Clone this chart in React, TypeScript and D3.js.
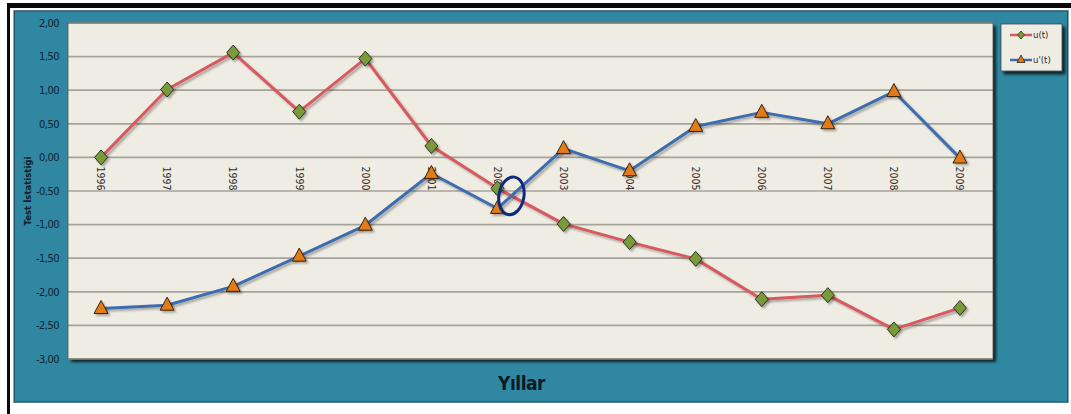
import React from 'react';
import * as d3 from 'd3';

const years = ['1996', '1997', '1998', '1999', '2000', '2001', '2002', '2003', '2004', '2005', '2006', '2007', '2008', '2009'];
const uValues = [0.0, 1.01, 1.56, 0.68, 1.47, 0.17, -0.46, -0.99, -1.26, -1.51, -2.11, -2.05, -2.56, -2.24];
const uPrimeValues = [-2.25, -2.2, -1.92, -1.47, -1.01, -0.24, -0.76, 0.13, -0.2, 0.46, 0.67, 0.5, 0.98, -0.01];
const yTicks = [2, 1.5, 1, 0.5, 0, -0.5, -1, -1.5, -2, -2.5, -3];
const seriesNames = ['u(t)', "u'(t)"];
const yTitle = 'Test İstatistiği';
const xTitle = 'Yıllar';

const W = 1071;
const H = 414;
const plot = { left: 68, right: 993, top: 23, bottom: 359 };

const RED = '#d65a5e';
const BLUE = '#3d6dae';
const GREEN = '#7a9b3c';
const ORANGE = '#e37b12';
const TEAL = '#2f87a1';
const PLOTBG = '#efece3';

const fmt = (v: number) => v.toFixed(2).replace('.', ',');

function Diamond({ cx, cy }: { cx: number; cy: number }) {
  const w = 6.5, h = 7.5;
  return (
    <path
      d={`M${cx},${cy - h}L${cx + w},${cy}L${cx},${cy + h}L${cx - w},${cy}Z`}
      fill={GREEN}
      stroke="#2a3418"
      strokeWidth={1}
    />
  );
}

function Triangle({ cx, cy }: { cx: number; cy: number }) {
  const w = 7, h = 13;
  return (
    <path
      d={`M${cx},${cy - h * 0.62}L${cx + w},${cy + h * 0.38}L${cx - w},${cy + h * 0.38}Z`}
      fill={ORANGE}
      stroke="#3a2208"
      strokeWidth={1}
    />
  );
}

export default function App() {
  const x = d3.scaleBand<string>().domain(years).range([plot.left, plot.right]);
  const cx = (yr: string) => (x(yr) as number) + x.bandwidth() / 2;
  const y = d3.scaleLinear().domain([-3, 2]).range([plot.bottom, plot.top]);

  const line = d3
    .line<number>()
    .x((_, i) => cx(years[i]))
    .y((v) => y(v))
    .curve(d3.curveLinear);

  // crossing point of the two series (annotation ellipse)
  let cross: { px: number; py: number } | null = null;
  for (let i = 0; i < years.length - 1; i++) {
    const d0 = uValues[i] - uPrimeValues[i];
    const d1 = uValues[i + 1] - uPrimeValues[i + 1];
    if (d0 * d1 < 0) {
      const t = d0 / (d0 - d1);
      const xv = cx(years[i]) + t * (cx(years[i + 1]) - cx(years[i]));
      const yv = uValues[i] + t * (uValues[i + 1] - uValues[i]);
      cross = { px: xv, py: y(yv) };
      break;
    }
  }

  const legend = { x: 1001, y: 24, w: 61, h: 47 };

  return (
    <svg
      width={W}
      height={H}
      style={{ position: 'absolute', left: 0, top: 0, display: 'block' }}
      fontFamily="'DejaVu Sans Condensed', 'DejaVu Sans', sans-serif"
    >
      <defs>
        <filter id="shadow" x="-10%" y="-10%" width="130%" height="130%">
          <feGaussianBlur in="SourceAlpha" stdDeviation="1.5" />
          <feOffset dx="3" dy="3" result="b" />
          <feComponentTransfer>
            <feFuncA type="linear" slope="0.75" />
          </feComponentTransfer>
          <feMerge>
            <feMergeNode />
            <feMergeNode in="SourceGraphic" />
          </feMerge>
        </filter>
        <filter id="lshadow" x="-5%" y="-20%" width="110%" height="140%">
          <feGaussianBlur in="SourceAlpha" stdDeviation="1.2" />
          <feOffset dx="1.5" dy="2" result="b" />
          <feComponentTransfer>
            <feFuncA type="linear" slope="0.3" />
          </feComponentTransfer>
          <feMerge>
            <feMergeNode />
            <feMergeNode in="SourceGraphic" />
          </feMerge>
        </filter>
        <clipPath id="plotclip">
          <rect x={plot.left} y={plot.top} width={plot.right - plot.left} height={plot.bottom - plot.top} />
        </clipPath>
      </defs>

      {/* page frame */}
      <rect x={0} y={0} width={W} height={H} fill="#ffffff" />
      <rect x={7} y={3} width={W - 7} height={5} fill="#0a0a0a" />
      <rect x={7} y={3} width={3} height={H - 3} fill="#0a0a0a" />

      {/* teal chart area */}
      <rect x={13} y={10} width={1056} height={393} fill="#8fa6ad" />
      <rect x={14.5} y={11} width={1053} height={391} fill={TEAL} stroke="#1f5566" strokeWidth={1} />

      {/* plot area */}
      <rect
        x={plot.left}
        y={plot.top}
        width={plot.right - plot.left}
        height={plot.bottom - plot.top}
        fill={PLOTBG}
        filter="url(#shadow)"
      />

      {/* gridlines */}
      {yTicks.map((t) => (
        <line
          key={t}
          x1={plot.left}
          x2={plot.right}
          y1={y(t)}
          y2={y(t)}
          stroke="#a4a39c"
          strokeWidth={1.7}
        />
      ))}
      <rect
        x={plot.left}
        y={plot.top}
        width={plot.right - plot.left}
        height={plot.bottom - plot.top}
        fill="none"
        stroke="#55554f"
        strokeWidth={0.8}
      />

      {/* y tick labels */}
      {yTicks.map((t) => (
        <text
          key={'l' + t}
          x={59}
          y={y(t)}
          dy="0.35em"
          textAnchor="end"
          fontSize={11}
          fill="#13222e"
          letterSpacing={-0.5}
        >
          {fmt(t)}
        </text>
      ))}

      {/* y title */}
      <text
        transform={`translate(31,${(plot.top + plot.bottom) / 2}) rotate(-90)`}
        textAnchor="middle"
        fontSize={9.5}
        fontWeight="bold"
        fill="#10202c"
      >
        {yTitle}
      </text>

      {/* category labels at the zero line */}
      {years.map((yr) => (
        <text
          key={'c' + yr}
          transform={`translate(${cx(yr)},${y(0) + 9}) rotate(90)`}
          dy="0.35em"
          textAnchor="start"
          fontSize={10.5}
          fill="#2e2e2e"
        >
          {yr}
        </text>
      ))}

      {/* series */}
      <g clipPath="url(#plotclip)">
        <path d={line(uValues) || ''} fill="none" stroke={RED} strokeWidth={3} strokeLinejoin="round" filter="url(#lshadow)" />
        <path d={line(uPrimeValues) || ''} fill="none" stroke={BLUE} strokeWidth={3} strokeLinejoin="round" filter="url(#lshadow)" />
      </g>
      <g filter="url(#lshadow)">
        {uValues.map((v, i) => (
          <Diamond key={'d' + i} cx={cx(years[i])} cy={y(v)} />
        ))}
        {uPrimeValues.map((v, i) => (
          <Triangle key={'t' + i} cx={cx(years[i])} cy={y(v)} />
        ))}
      </g>

      {/* annotation ellipse at crossing */}
      {cross && (
        <ellipse
          cx={cross.px}
          cy={cross.py}
          rx={12.5}
          ry={19}
          transform={`rotate(10,${cross.px},${cross.py})`}
          fill="none"
          stroke="#0f2a7a"
          strokeWidth={3}
        />
      )}

      {/* x title */}
      <text
        x={(plot.left + plot.right) / 2 - 9}
        y={390}
        textAnchor="middle"
        fontSize={19}
        fontWeight="bold"
        fill="#0c1a26"
        letterSpacing={-0.5}
      >
        {xTitle}
      </text>

      {/* legend */}
      <rect
        x={legend.x}
        y={legend.y}
        width={legend.w}
        height={legend.h}
        fill={PLOTBG}
        stroke="#3b4a50"
        strokeWidth={0.8}
        filter="url(#shadow)"
      />
      {seriesNames.map((name, i) => {
        const ly = legend.y + 11 + i * 25;
        return (
          <g key={name}>
            <line x1={legend.x + 9} x2={legend.x + 31} y1={ly} y2={ly} stroke={i === 0 ? RED : BLUE} strokeWidth={2.5} />
            {i === 0 ? (
              <path d={`M${legend.x + 20},${ly - 4}L${legend.x + 23.5},${ly}L${legend.x + 20},${ly + 4}L${legend.x + 16.5},${ly}Z`} fill={GREEN} stroke="#2a3418" strokeWidth={0.8} />
            ) : (
              <path d={`M${legend.x + 20},${ly - 5}L${legend.x + 24},${ly + 2.5}L${legend.x + 16},${ly + 2.5}Z`} fill={ORANGE} stroke="#3a2208" strokeWidth={0.8} />
            )}
            <text x={legend.x + 32} y={ly} dy="0.35em" fontSize={9.5} fill="#1e2a30">
              {name}
            </text>
          </g>
        );
      })}
    </svg>
  );
}
